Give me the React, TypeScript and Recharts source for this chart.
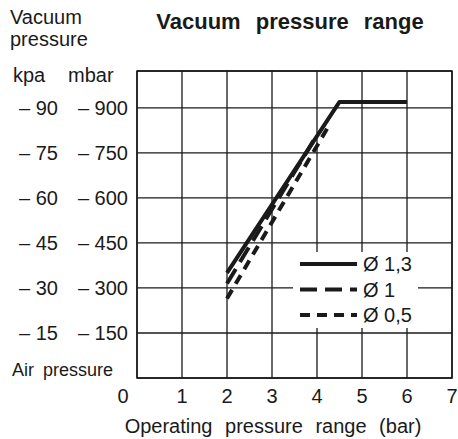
import { LineChart, Line, XAxis, YAxis, CartesianGrid, Legend, ReferenceArea } from 'recharts'

// axis ticks
const barTicks = [0, 1, 2, 3, 4, 5, 6, 7]
const mbarTicks = [0, 150, 300, 450, 600, 750, 900]
const kpaTicks = [0, 15, 30, 45, 60, 75, 90]
const mbarMax = 1023

// curves (bar -> mbar)
const nozzle13 = [
  { bar: 2, mbar: 350 },
  { bar: 4.5, mbar: 920 },
  { bar: 6, mbar: 920 }
]
const nozzle1 = [
  { bar: 2, mbar: 315 },
  { bar: 4, mbar: 810 }
]
const nozzle05 = [
  { bar: 2, mbar: 265 },
  { bar: 4.3, mbar: 850 }
]

const series = [
  { name: 'Ø 1,3', data: nozzle13, dash: undefined as string | undefined },
  { name: 'Ø 1', data: nozzle1, dash: '17 8' },
  { name: 'Ø 0,5', data: nozzle05, dash: '10 7' }
]

const FONT = '"Liberation Sans", Arial, Helvetica, sans-serif'
const INK = '#1a1a1a'

function YTick(props: any) {
  const { y, payload } = props
  const i = mbarTicks.indexOf(payload.value)
  if (payload.value === 0) return null
  return (
    <g fontFamily={FONT} fontSize={20} fill={INK}>
      <text x={58} y={y} dy="0.36em" textAnchor="end">{'– ' + kpaTicks[i]}</text>
      <text x={128} y={y} dy="0.36em" textAnchor="end">{'– ' + payload.value}</text>
    </g>
  )
}

function XTick(props: any) {
  const { x, y, payload } = props
  // the "0" sits left of the frame in the original
  const shift = payload.value === 0 ? -14 : 0
  return (
    <text x={x + shift} y={y + 17} textAnchor="middle" fontFamily={FONT} fontSize={20} fill={INK}>
      {payload.value}
    </text>
  )
}

function LegendBox() {
  return (
    <svg width={125} height={76} style={{ display: 'block', background: '#fff' }}>
      {series.map((s, i) => {
        const cy = 12 + i * 25.5
        return (
          <g key={s.name}>
            <line x1={7} x2={64} y1={cy} y2={cy} stroke={INK} strokeWidth={4} strokeDasharray={s.dash} />
            <text x={70} y={cy} dy="0.36em" fontFamily={FONT} fontSize={20} fill={INK}>{s.name}</text>
          </g>
        )
      })}
    </svg>
  )
}

export default function App() {
  return (
    <div style={{ position: 'absolute', left: 0, top: 0, width: 458, height: 439, background: '#fff' }}>
      <LineChart width={458} height={439} margin={{ top: 71, right: 6, bottom: 0, left: 0 }}>
        <CartesianGrid stroke={INK} strokeWidth={1.3} />
        <XAxis
          type="number"
          dataKey="bar"
          domain={[0, 7]}
          ticks={barTicks}
          height={61}
          axisLine={false}
          tickLine={false}
          tick={<XTick />}
          allowDuplicatedCategory={false}
        />
        <YAxis
          type="number"
          dataKey="mbar"
          domain={[0, mbarMax]}
          ticks={mbarTicks}
          width={137}
          axisLine={false}
          tickLine={false}
          tick={<YTick />}
        />
        <ReferenceArea x1={0} x2={7} y1={0} y2={mbarMax} fill="none" stroke={INK} strokeWidth={1.5} />
        {series.map((s) => (
          <Line
            key={s.name}
            data={s.data}
            dataKey="mbar"
            name={s.name}
            type="linear"
            stroke={INK}
            strokeWidth={4}
            strokeDasharray={s.dash}
            strokeLinejoin="round"
            dot={false}
            activeDot={false}
            isAnimationActive={false}
          />
        ))}
        <Legend
          layout="vertical"
          align="center"
          verticalAlign="middle"
          wrapperStyle={{ left: 293, top: 252, width: 125, height: 76 }}
          content={() => <LegendBox />}
        />
      </LineChart>
      <svg
        width={458}
        height={439}
        style={{ position: 'absolute', left: 0, top: 0, pointerEvents: 'none' }}
        fontFamily={FONT}
        fill={INK}
      >
        <text x={10} y={24} fontSize={20}>Vacuum</text>
        <text x={10} y={46} fontSize={20}>pressure</text>
        <text x={13} y={82} fontSize={20}>kpa</text>
        <text x={68} y={82} fontSize={20}>mbar</text>
        <text x={12} y={376} fontSize={18} wordSpacing={4}>Air pressure</text>
        <text x={290} y={29} fontSize={22} fontWeight="bold" textAnchor="middle" wordSpacing={9}>
          Vacuum pressure range
        </text>
        <text x={273} y={433} fontSize={20} textAnchor="middle" wordSpacing={7}>
          Operating pressure range (bar)
        </text>
      </svg>
    </div>
  )
}
